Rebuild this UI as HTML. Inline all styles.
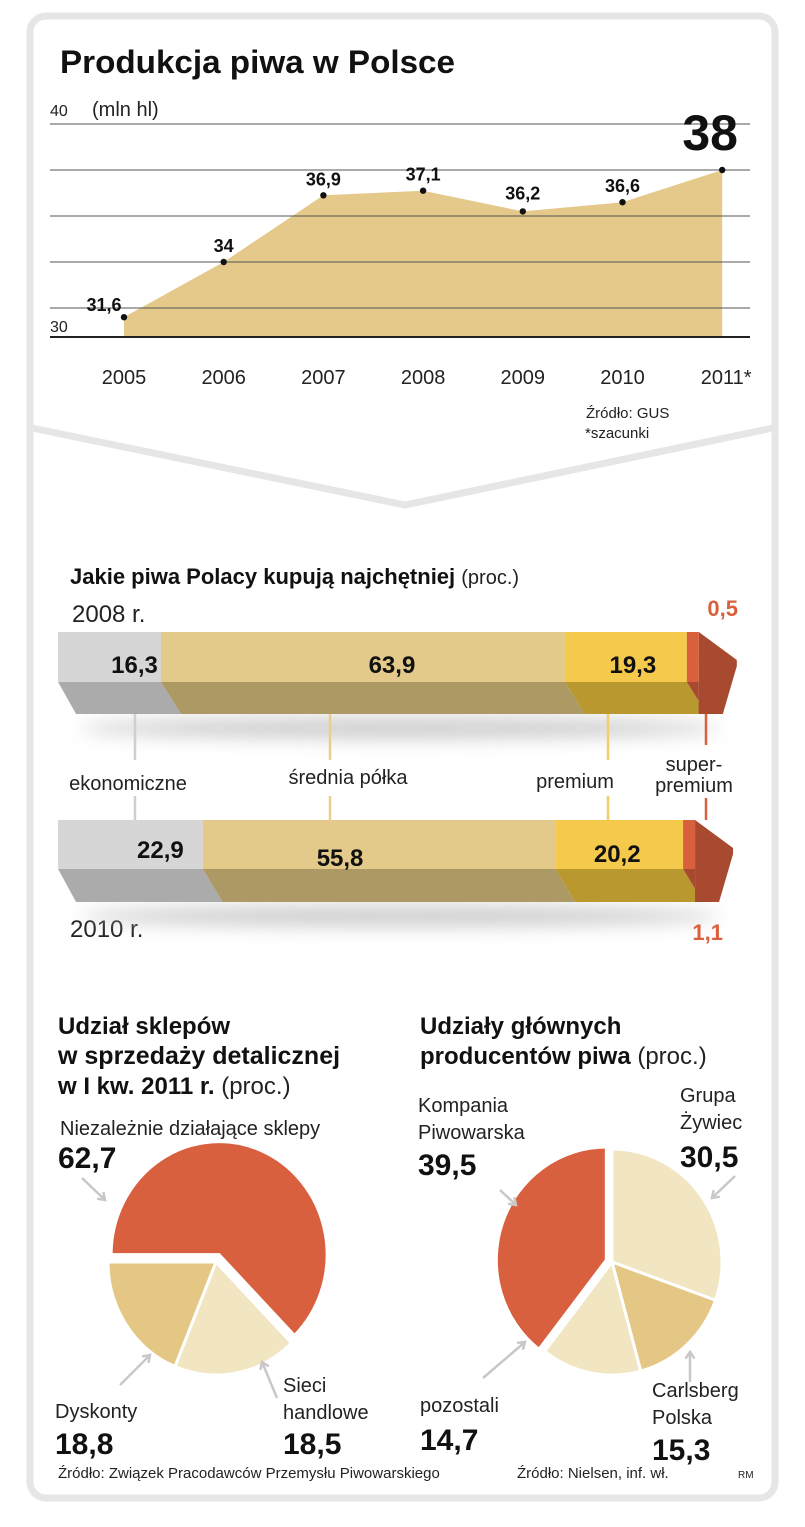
<!DOCTYPE html>
<html><head><meta charset="utf-8">
<style>
html,body{margin:0;padding:0;background:#fff;}
svg{display:block;font-family:"Liberation Sans",sans-serif;}
.nb{font-family:"Liberation Sans Narrow","Liberation Sans",sans-serif;font-weight:bold;fill:#111;}
.n{font-family:"Liberation Sans Narrow","Liberation Sans",sans-serif;fill:#222;}
</style></head>
<body>
<svg id="svg" width="805" height="1527" viewBox="0 0 805 1527" xmlns="http://www.w3.org/2000/svg">
 <defs>
  <filter id="blur" x="-20%" y="-200%" width="140%" height="500%"><feGaussianBlur stdDeviation="9"/></filter>
 </defs>
 <rect x="30" y="16" width="745" height="1482" rx="16" fill="none" stroke="#e6e6e6" stroke-width="7"/>
 <polyline points="32,428 405,505 773,428" fill="none" stroke="#e6e6e6" stroke-width="7"/>

 <text x="60" y="73" class="nb" font-size="32" textLength="395" lengthAdjust="spacingAndGlyphs">Produkcja piwa w Polsce</text>
 <g id="lineChart"></g>
 <text x="586" y="418" class="n" font-size="15">Źródło: GUS</text>
 <text x="585" y="438" class="n" font-size="15">*szacunki</text>

 <text x="70" y="584" class="nb" font-size="22">Jakie piwa Polacy kupują najchętniej <tspan class="n" font-weight="normal" font-size="20">(proc.)</tspan></text>
 <text x="72" y="622" class="n" font-size="24">2008 r.</text>
 <text x="70" y="937" class="n" font-size="24">2010 r.</text>
 <g id="barChart"></g>

 <g>
  <text x="58" y="1034" class="nb" font-size="24">Udział sklepów</text>
  <text x="58" y="1064" class="nb" font-size="25">w sprzedaży detalicznej</text>
  <text x="58" y="1094" class="nb" font-size="24">w I kw. 2011 r. <tspan class="n" font-weight="normal">(proc.)</tspan></text>
 </g>
 <g>
  <text x="420" y="1034" class="nb" font-size="24">Udziały głównych</text>
  <text x="420" y="1064" class="nb" font-size="24">producentów piwa <tspan class="n" font-weight="normal">(proc.)</tspan></text>
 </g>
 <g id="pies"></g>
 <text x="58" y="1478" class="n" font-size="15">Źródło: Związek Pracodawców Przemysłu Piwowarskiego</text>
 <text x="517" y="1478" class="n" font-size="15">Źródło: Nielsen, inf. wł.</text>
 <text x="738" y="1478" class="n" font-size="10">RM</text>
</svg>
<script>
const NS="http://www.w3.org/2000/svg";
// ---- line chart data ----
const years=["2005","2006","2007","2008","2009","2010","2011*"];
const production=[31.6,34,36.9,37.1,36.2,36.6,38];
const prodLabels=["31,6","34","36,9","37,1","36,2","36,6","38"];
const gridValues=[40,38,36,34,32];
// ---- bar data ----
const segNames=["ekonomiczne","średnia półka","premium","super-premium"];
const share2008=[16.3,63.9,19.3,0.5];
const share2010=[22.9,55.8,20.2,1.1];
const shareLabels2008=["16,3","63,9","19,3","0,5"];
const shareLabels2010=["22,9","55,8","20,2","1,1"];
// ---- pie data ----
const shopNames=["Niezależnie działające sklepy","Sieci handlowe","Dyskonty"];
const shopShares=[62.7,18.5,18.8];
const shopLabels=["62,7","18,5","18,8"];
const prodNames=["Grupa Żywiec","Carlsberg Polska","pozostali","Kompania Piwowarska"];
const prodShares=[30.5,15.3,14.7,39.5];
const prodShareLabels=["30,5","15,3","14,7","39,5"];

function mk(tag,attrs,parent,text){const e=document.createElementNS(NS,tag);for(const k in attrs)e.setAttribute(k,attrs[k]);if(text!==undefined)e.textContent=text;parent.appendChild(e);return e;}

(function(){
 const g=document.getElementById('lineChart');
 const x0=124,dx=99.7;
 const xs=i=>x0+i*dx;
 const ys=v=>308+(32-v)*23;
 const baseY=337;
 let pts=`${xs(0)},${baseY} `+production.map((v,i)=>`${xs(i)},${ys(v)}`).join(' ')+` ${xs(production.length-1)},${baseY}`;
 const area=mk('polygon',{points:pts,fill:'#e4c98a'},g);
 
 
 gridValues.forEach(v=>{
  const l=mk('line',{x1:50,x2:750,y1:ys(v),y2:ys(v),stroke:'#555','stroke-width':1},g);
  
  
 });
 const b=mk('line',{x1:50,x2:750,y1:baseY,y2:baseY,stroke:'#222','stroke-width':2},g);
 
 
 const t40=mk('text',{x:50,y:ys(40)-8,'font-size':16,class:'n',fill:'#555'},g,'40');
 
 
 const t30=mk('text',{x:50,y:baseY-5,'font-size':16,class:'n',fill:'#555'},g,'30');
 
 
 const un=mk('text',{x:92,y:ys(40)-8,'font-size':20,class:'n'},g,'(mln hl)');
 
 
 production.forEach((v,i)=>{
  const c=mk('circle',{cx:xs(i),cy:ys(v),r:3.2,fill:'#111'},g);
  
  
  const last=i===production.length-1;
  const off=[6,10,10,10,12,10][i]||0;
  const lx=i===0?xs(i)-20:xs(i);
  let lbl;
  if(last){
   lbl=mk('text',{x:xs(i)-12,y:ys(v)-20,'text-anchor':'middle','font-size':50,class:'nb'},g,prodLabels[i]);
  } else {
   lbl=mk('text',{x:lx,y:ys(v)-off,'text-anchor':'middle','font-size':18,class:'nb'},g,prodLabels[i]);
  }
  
  
  const yl=mk('text',{x:xs(i)+(last?4:0),y:384,'text-anchor':'middle','font-size':20,class:'n'},g,years[i]);
  
  
 });
})();

(function(){
 const g=document.getElementById('barChart');
 const X0=58,W=632,MINW=12,SHIFT=20;
 const topC=['#d6d6d6','#e3c98a','#f5c94c','#d9603c'];
 const botC=['#ababab','#ad9964','#b8982f','#a84a30'];
 function bar(vals,labels,yT,yM,yB,tag,labelDy,labelDx){
  const shad=mk('ellipse',{cx:400,cy:yB+14,rx:320,ry:10,fill:'#bdbdbd',filter:'url(#blur)',opacity:0.8},g);
  
  
  let x=X0;const bounds=[];
  vals.forEach((v,i)=>{
   const w=Math.max(MINW,v/100*W);
   bounds.push([x,x+w]);x+=w;
  });
  const mids=[];
  bounds.forEach(([a,b],i)=>{
   const sa=i===0?0:SHIFT, sb=i===vals.length-1?0:SHIFT;
   const last=i===vals.length-1;
   const p1=mk('polygon',{points:`${a},${yT} ${b},${yT} ${b},${yM} ${a},${yM}`,fill:topC[i]},g);
   
   
   const aB=i===0?a+18:a+sa, bB=last?b:b+sb;
   const p2=mk('polygon',{points:`${a},${yM} ${b},${yM} ${bB},${yB} ${aB},${yB}`,fill:botC[i]},g);
   
   
   mids.push((a+b)/2);
  });
  const R=bounds[bounds.length-1][1];
  const tip=mk('polygon',{points:`${R},${yT} ${R+38},${yT+28} ${R+38},${yT+34} ${R+24},${yB} ${R},${yB}`,fill:botC[3]},g);
  
  
  const notch=mk('polygon',{points:`${X0},${yM} ${X0+18},${yB} ${X0},${yB}`,fill:'#fff'},g);
  
  
  labels.slice(0,3).forEach((t,i)=>{
   const tx=mk('text',{x:mids[i]+labelDx[i],y:yT+labelDy[i],'text-anchor':'middle','font-size':24,class:'nb'},g,t);
   
   
  });
  return mids;
 }
 bar(share2008,shareLabels2008,632,682,714,'2008',[41,41,41],[25,29,7]);
 bar(share2010,shareLabels2010,820,869,902,'2010',[38,46,42],[30,-39,-2]);
 const r1=mk('text',{x:738,y:616,'text-anchor':'end','font-size':22,class:'nb'},g,shareLabels2008[3]);
 
 
 r1.setAttribute('style','fill:#d9603c');
 const r2=mk('text',{x:723,y:940,'text-anchor':'end','font-size':22,class:'nb'},g,shareLabels2010[3]);
 
 
 r2.setAttribute('style','fill:#d9603c');
 const cx=[135,330,608,706];
 const lineC2=['#cfcfcf','#e8cf8e','#f2cd6a','#d9603c'];
 cx.forEach((x,i)=>{
  const a=mk('line',{x1:x,x2:x,y1:714,y2:i===3?745:760,stroke:lineC2[i],'stroke-width':2.5},g);
  
  
  const b=mk('line',{x1:x,x2:x,y1:i===3?798:796,y2:820,stroke:lineC2[i],'stroke-width':2.5},g);
  
  
 });
 const labs=[[128,790],[348,784],[575,788]];
 labs.forEach(([x,y],i)=>{
  const tx=mk('text',{x:x,y:y,'text-anchor':'middle','font-size':20,class:'n'},g,segNames[i]);
  
  
 });
 const s1=mk('text',{x:694,y:771,'text-anchor':'middle','font-size':20,class:'n'},g,'super-');
 
 
 const s2=mk('text',{x:694,y:792,'text-anchor':'middle','font-size':20,class:'n'},g,'premium');
 
 
})();

(function(){
 const g=document.getElementById('pies');
 function pt(cx,cy,rx,ry,deg){const r=(deg-90)*Math.PI/180;return [cx+rx*Math.cos(r),cy+ry*Math.sin(r)];}
 function slice(cx,cy,rx,ry,a0,a1,fill,name,explode){
  const mid=(a0+a1)/2,[ex,ey]=pt(0,0,explode,explode,mid);
  cx+=ex;cy+=ey;
  const [x0,y0]=pt(cx,cy,rx,ry,a0),[x1,y1]=pt(cx,cy,rx,ry,a1);
  const large=(a1-a0)>180?1:0;
  const p=mk('path',{d:`M${cx},${cy} L${x0},${y0} A${rx},${ry} 0 ${large} 1 ${x1},${y1} Z`,fill:fill,stroke:'#fff','stroke-width':3},g);
  
  
 }
 const lc=['#d9603f','#f2e5c2','#e4c784'];
 let a=270;
 shopShares.forEach((v,i)=>{
  const d=v/100*360;
  slice(216,1262,108,113,a,a+d,lc[i],'shop-slice-'+i,i===0?8:0);
  a+=d;
 });
 const rc=['#f2e5c2','#e4c784','#f2e5c2','#d9603f'];
 a=0;
 prodShares.forEach((v,i)=>{
  const d=v/100*360;
  slice(612,1262,110,113,a,a+d,rc[i],'producer-slice-'+i,i===3?6:0);
  a+=d;
 });
 function txt(x,y,s,cls,t,name){
  const e=mk('text',{x:x,y:y,'font-size':s,class:cls},g,t);
  
  
 }
 txt(60,1135,20,'n',shopNames[0],'label-independent-shops');
 txt(58,1168,30,'nb',shopLabels[0],'value-independent-shops');
 txt(283,1392,20,'n','Sieci','label-chains-1');
 txt(283,1419,20,'n','handlowe','label-chains-2');
 txt(283,1454,30,'nb',shopLabels[1],'value-chains');
 txt(55,1418,20,'n','Dyskonty','label-discounts');
 txt(55,1454,30,'nb',shopLabels[2],'value-discounts');
 txt(418,1112,20,'n','Kompania','label-kompania-1');
 txt(418,1139,20,'n','Piwowarska','label-kompania-2');
 txt(418,1175,30,'nb',prodShareLabels[3],'value-kompania');
 txt(680,1102,20,'n','Grupa','label-zywiec-1');
 txt(680,1129,20,'n','Żywiec','label-zywiec-2');
 txt(680,1167,30,'nb',prodShareLabels[0],'value-zywiec');
 txt(420,1412,20,'n',prodNames[2],'label-others');
 txt(420,1450,30,'nb',prodShareLabels[2],'value-others');
 txt(652,1397,20,'n','Carlsberg','label-carlsberg-1');
 txt(652,1424,20,'n','Polska','label-carlsberg-2');
 txt(652,1460,30,'nb',prodShareLabels[1],'value-carlsberg');
 const arrows=[[82,1178,105,1200],[120,1385,150,1355],[277,1398,262,1362],[500,1190,516,1205],[735,1176,712,1198],[483,1378,525,1342],[690,1382,690,1352]];
 arrows.forEach(([x1,y1,x2,y2],i)=>{
  const l=mk('line',{x1:x1,y1:y1,x2:x2,y2:y2,stroke:'#c8c8c8','stroke-width':2.5},g);
  
  
  const ang=Math.atan2(y2-y1,x2-x1),h=8;
  const p=mk('polyline',{points:`${x2-h*Math.cos(ang-0.6)},${y2-h*Math.sin(ang-0.6)} ${x2},${y2} ${x2-h*Math.cos(ang+0.6)},${y2-h*Math.sin(ang+0.6)}`,fill:'none',stroke:'#c8c8c8','stroke-width':2.5},g);
  
  
 });
})();
</script>
</body></html>
